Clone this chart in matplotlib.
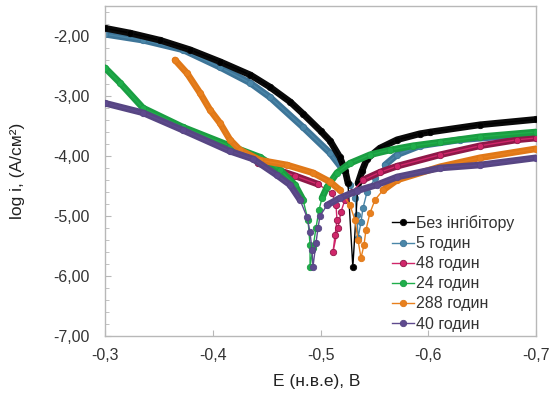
import numpy as np
import matplotlib
matplotlib.use("Agg")
import matplotlib.pyplot as plt
from matplotlib.ticker import MultipleLocator, FuncFormatter

plt.rcParams['font.family'] = ['Liberation Sans', 'DejaVu Sans']

# Polarisation curves: potential E (V) and log of current density
E_black = [-0.300, -0.323, -0.351, -0.379, -0.407, -0.435, -0.453, -0.472, -0.484, -0.500,
           -0.509, -0.518, -0.523, -0.5255, -0.530,
           -0.5348, -0.5385, -0.543, -0.555, -0.571, -0.592, -0.602, -0.648, -0.700]
logi_black = [-1.87, -1.95, -2.07, -2.23, -2.43, -2.65, -2.85, -3.10, -3.30, -3.58,
              -3.75, -4.02, -4.25, -4.45, -5.85,
              -4.45, -4.25, -4.05, -3.87, -3.73, -3.63, -3.60, -3.48, -3.39]

E_5h = [-0.300, -0.3353, -0.3724, -0.4067, -0.4346, -0.4531, -0.4838, -0.5088, -0.5209,
        -0.5274, -0.5320, -0.5339, -0.5348, -0.5376, -0.5394, -0.5432, -0.5506, -0.5599,
        -0.5710, -0.5923, -0.6295, -0.700]
logi_5h = [-1.97, -2.07, -2.23, -2.52, -2.78, -3.02, -3.52, -3.95, -4.23,
           -4.48, -4.70, -4.98, -5.37, -5.10, -4.87, -4.60, -4.37, -4.15,
           -3.98, -3.83, -3.73, -3.63]

E_48h = [-0.442, -0.4550, -0.4763, -0.4977, -0.5107, -0.5144, -0.5153, -0.5135, -0.5116,
         -0.5162, -0.5190, -0.5227, -0.5292, -0.5394, -0.5552, -0.5710, -0.6109, -0.6480,
         -0.6824, -0.700]
logi_48h = [-4.12, -4.20, -4.33, -4.47, -4.62, -4.82, -5.07, -5.32, -5.60,
            -5.20, -4.93, -4.73, -4.60, -4.40, -4.27, -4.17, -3.98, -3.83,
            -3.73, -3.70]

E_24h = [-0.300, -0.3139, -0.3353, -0.3724, -0.4160, -0.4439, -0.4624, -0.4763, -0.4838,
         -0.4884, -0.4903, -0.4903, -0.4930, -0.4958, -0.4986, -0.5014, -0.5060, -0.5153,
         -0.5274, -0.5459, -0.5645, -0.5858, -0.6109, -0.6480, -0.700]
logi_24h = [-2.53, -2.78, -3.20, -3.52, -3.83, -4.02, -4.23, -4.48, -4.73,
            -5.07, -5.48, -5.85, -5.53, -5.20, -4.90, -4.70, -4.52, -4.28,
            -4.12, -3.98, -3.90, -3.83, -3.77, -3.68, -3.60]

E_288h = [-0.3650, -0.3761, -0.3882, -0.3974, -0.4067, -0.4160, -0.4253, -0.4439, -0.4689,
          -0.4930, -0.5088, -0.5181, -0.5274, -0.5320, -0.5348, -0.5376, -0.5404, -0.5422,
          -0.5459, -0.5506, -0.5580, -0.5710, -0.6109, -0.6480, -0.700]
logi_288h = [-2.40, -2.62, -2.95, -3.23, -3.45, -3.73, -3.90, -4.07, -4.15,
             -4.28, -4.43, -4.57, -4.82, -5.07, -5.40, -5.70, -5.48, -5.23,
             -4.95, -4.73, -4.57, -4.40, -4.18, -4.03, -3.88]

E_40h = [-0.300, -0.3353, -0.3724, -0.4160, -0.4374, -0.4596, -0.4717, -0.4810, -0.4875,
         -0.4903, -0.4921, -0.4930, -0.4958, -0.4977, -0.4995, -0.5060, -0.5181, -0.5339,
         -0.5524, -0.5710, -0.6109, -0.6480, -0.700]
logi_40h = [-3.12, -3.28, -3.57, -3.92, -4.05, -4.32, -4.48, -4.73, -5.02,
            -5.27, -5.57, -5.85, -5.45, -5.20, -5.00, -4.82, -4.70, -4.58,
            -4.48, -4.35, -4.20, -4.15, -4.03]

labels = ["Без інгібітору", "5 годин", "48 годин", "24 годин", "288 годин", "40 годин"]
colors = ["#000000", "#4a86a8", "#d0266a", "#1fae4b", "#e8801e", "#5e4a8e"]
band_colors = ["#0a0a0a", "#3e7598", "#8e1848", "#1a9e42", "#e07818", "#574683"]
zorders = [2.5, 2.0, 3.0, 3.5, 4.0, 4.5]

series = [(E_black, logi_black), (E_5h, logi_5h), (E_48h, logi_48h),
          (E_24h, logi_24h), (E_288h, logi_288h), (E_40h, logi_40h)]

fig = plt.figure(figsize=(5.58, 3.94), dpi=100)
ax = fig.add_axes([105 / 558, 1 - 336 / 394, 431 / 558, 330 / 394])

handles = []
for (E, lg), lab, c, bc, z in zip(series, labels, colors, band_colors, zorders):
    E = np.asarray(E)
    lg = np.asarray(lg)
    # dense measurement region away from the corrosion potential drawn as a thick band
    band = np.where(lg > lg.min() + 1.0, lg, np.nan)
    ax.plot(E, band, color=bc, lw=4.8, solid_capstyle='round', zorder=z)
    h, = ax.plot(E, lg, color=c, lw=1.0, marker='o', ms=4.6,
                 markerfacecolor=c, markeredgecolor=bc, markeredgewidth=0.6,
                 zorder=z + 0.01, label=lab)
    handles.append(h)

ax.set_xlim(-0.3, -0.7)
ax.set_ylim(-7.0, -1.5)

ax.xaxis.set_major_locator(MultipleLocator(0.1))
ax.yaxis.set_major_locator(MultipleLocator(1.0))
ax.yaxis.set_minor_locator(MultipleLocator(0.2))
ax.xaxis.set_major_formatter(FuncFormatter(lambda v, p: f"{v:.1f}".replace('.', ',')))
ax.yaxis.set_major_formatter(FuncFormatter(lambda v, p: f"{v:.2f}".replace('.', ',')))
ax.set_yticks([-7, -6, -5, -4, -3, -2])

spine_c = '#b8b8b8'
for s in ax.spines.values():
    s.set_color(spine_c)
    s.set_linewidth(1.0)

ax.tick_params(axis='both', which='both', direction='in', color=spine_c,
               labelcolor='#333333', labelsize=11.5)
ax.tick_params(axis='y', which='major', length=4, pad=11)
ax.tick_params(axis='y', which='minor', length=3)
ax.tick_params(axis='x', which='major', length=4, pad=9)

ax.set_xlabel("E (н.в.е), В", fontsize=12.5, color='#222222')
ax.set_ylabel("log i, (A/см²)", fontsize=12.5, color='#222222')
ax.xaxis.set_label_coords(0.49, -0.115)
ax.yaxis.set_label_coords(-0.185, 0.5)

leg = ax.legend(handles=handles, loc='upper left', bbox_to_anchor=(0.665, 0.366),
                frameon=False, fontsize=11.5, handlelength=1.4, handletextpad=0.15,
                labelspacing=0.32, borderaxespad=0.0, borderpad=0.0)
leg.set_zorder(10)
for t in leg.get_texts():
    t.set_color('#333333')

fig.savefig("out.png", dpi=100)
